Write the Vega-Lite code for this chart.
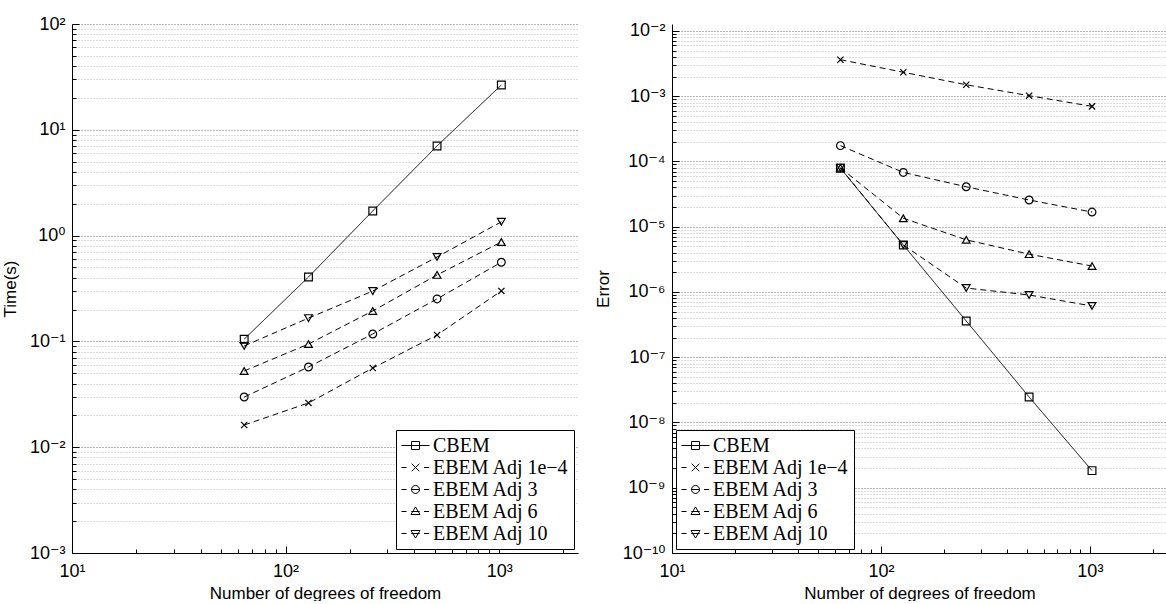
{
  "$schema": "https://vega.github.io/schema/vega-lite/v6.json",
  "padding": {"left": 1, "top": 15, "right": 0, "bottom": 0},
  "spacing": 16,
  "background": "white",
  "config": {
    "view": {"stroke": null},
    "font": "Liberation Sans",
    "axis": {
      "domainColor": "black", "domainWidth": 1, "tickColor": "black", "tickWidth": 1,
      "labelFont": "Liberation Sans, DejaVu Sans", "labelFontSize": 18, "labelColor": "black",
      "titleFont": "Liberation Sans", "titleFontSize": 17, "titleFontWeight": "normal", "titleColor": "black",
      "gridDash": [1, 2], "gridWidth": 1, "labelFlush": false, "labelOverlap": false,
      "gridColor": {"condition": {"test": "abs(log(datum.value)/LN10 - round(log(datum.value)/LN10)) < 0.001", "value": "#707070"}, "value": "#b8b8b8"},
      "tickSize": {"condition": {"test": "abs(log(datum.value)/LN10 - round(log(datum.value)/LN10)) < 0.001", "value": -7}, "value": -4},
      "labelExpr": "abs(log(datum.value)/LN10 - round(log(datum.value)/LN10)) < 0.001 ? '10' + ['⁻¹⁰','⁻⁹','⁻⁸','⁻⁷','⁻⁶','⁻⁵','⁻⁴','⁻³','⁻²','⁻¹','⁰','¹','²','³'][round(log(datum.value)/LN10)+10] : ''"
    },
    "axisX": {"grid": false},
    "legend": {
      "labelFont": "Liberation Serif", "labelFontSize": 20, "labelColor": "black",
      "strokeColor": "black", "fillColor": "white", "padding": 5,
      "symbolSize": 400, "symbolStrokeWidth": 1, "symbolStrokeColor": "black", "symbolFillColor": "transparent",
      "symbolOpacity": 1, "symbolOffset": 4, "rowPadding": 1, "labelOffset": 7, "labelLimit": 400, "title": null
    }
  },
  "datasets": {
    "time": [
      {"series": "CBEM", "dof": 64, "value": 0.105},
      {"series": "CBEM", "dof": 128, "value": 0.406},
      {"series": "CBEM", "dof": 256, "value": 1.71},
      {"series": "CBEM", "dof": 512, "value": 7.03},
      {"series": "CBEM", "dof": 1024, "value": 26.5},
      {"series": "EBEM Adj 1e−4", "dof": 64, "value": 0.0162},
      {"series": "EBEM Adj 1e−4", "dof": 128, "value": 0.0262},
      {"series": "EBEM Adj 1e−4", "dof": 256, "value": 0.056},
      {"series": "EBEM Adj 1e−4", "dof": 512, "value": 0.115},
      {"series": "EBEM Adj 1e−4", "dof": 1024, "value": 0.30},
      {"series": "EBEM Adj 3", "dof": 64, "value": 0.0298},
      {"series": "EBEM Adj 3", "dof": 128, "value": 0.0573},
      {"series": "EBEM Adj 3", "dof": 256, "value": 0.1175},
      {"series": "EBEM Adj 3", "dof": 512, "value": 0.252},
      {"series": "EBEM Adj 3", "dof": 1024, "value": 0.56},
      {"series": "EBEM Adj 6", "dof": 64, "value": 0.0525},
      {"series": "EBEM Adj 6", "dof": 128, "value": 0.0944},
      {"series": "EBEM Adj 6", "dof": 256, "value": 0.194},
      {"series": "EBEM Adj 6", "dof": 512, "value": 0.425},
      {"series": "EBEM Adj 6", "dof": 1024, "value": 0.87},
      {"series": "EBEM Adj 10", "dof": 64, "value": 0.0906},
      {"series": "EBEM Adj 10", "dof": 128, "value": 0.166},
      {"series": "EBEM Adj 10", "dof": 256, "value": 0.299},
      {"series": "EBEM Adj 10", "dof": 512, "value": 0.628},
      {"series": "EBEM Adj 10", "dof": 1024, "value": 1.35}
    ],
    "error": [
      {"series": "CBEM", "dof": 64, "value": 7.9e-5},
      {"series": "CBEM", "dof": 128, "value": 5.25e-6},
      {"series": "CBEM", "dof": 256, "value": 3.6e-7},
      {"series": "CBEM", "dof": 512, "value": 2.46e-8},
      {"series": "CBEM", "dof": 1024, "value": 1.83e-9},
      {"series": "EBEM Adj 1e−4", "dof": 64, "value": 3.63e-3},
      {"series": "EBEM Adj 1e−4", "dof": 128, "value": 2.33e-3},
      {"series": "EBEM Adj 1e−4", "dof": 256, "value": 1.5e-3},
      {"series": "EBEM Adj 1e−4", "dof": 512, "value": 1.02e-3},
      {"series": "EBEM Adj 1e−4", "dof": 1024, "value": 7.0e-4},
      {"series": "EBEM Adj 3", "dof": 64, "value": 1.75e-4},
      {"series": "EBEM Adj 3", "dof": 128, "value": 6.8e-5},
      {"series": "EBEM Adj 3", "dof": 256, "value": 4.1e-5},
      {"series": "EBEM Adj 3", "dof": 512, "value": 2.57e-5},
      {"series": "EBEM Adj 3", "dof": 1024, "value": 1.68e-5},
      {"series": "EBEM Adj 6", "dof": 64, "value": 8.0e-5},
      {"series": "EBEM Adj 6", "dof": 128, "value": 1.35e-5},
      {"series": "EBEM Adj 6", "dof": 256, "value": 6.3e-6},
      {"series": "EBEM Adj 6", "dof": 512, "value": 3.8e-6},
      {"series": "EBEM Adj 6", "dof": 1024, "value": 2.5e-6},
      {"series": "EBEM Adj 10", "dof": 64, "value": 8.0e-5},
      {"series": "EBEM Adj 10", "dof": 128, "value": 5.25e-6},
      {"series": "EBEM Adj 10", "dof": 256, "value": 1.15e-6},
      {"series": "EBEM Adj 10", "dof": 512, "value": 9.0e-7},
      {"series": "EBEM Adj 10", "dof": 1024, "value": 6.1e-7}
    ]
  },
  "hconcat": [
    {
      "width": 506, "height": 529,
      "data": {"name": "time"},
      "resolve": {"scale": {"shape": "independent"}},
      "layer": [
        {
          "mark": {"type": "line", "color": "black", "strokeWidth": 1},
          "encoding": {
            "x": {"field": "dof", "type": "quantitative", "scale": {"type": "log", "domain": [10, 2340], "nice": false},
                  "axis": {"title": "Number of degrees of freedom", "titlePadding": 2, "labelPadding": 16,
                           "values": [10,20,30,40,50,60,70,80,90,100,200,300,400,500,600,700,800,900,1000,2000]}},
            "y": {"field": "value", "type": "quantitative", "scale": {"type": "log", "domain": [0.001, 100], "nice": false},
                  "axis": {"title": "Time(s)", "titlePadding": 10, "labelPadding": 14,
                           "values": [0.001,0.002,0.003,0.004,0.005,0.006,0.007,0.008,0.009,0.01,0.02,0.03,0.04,0.05,0.06,0.07,0.08,0.09,0.1,0.2,0.3,0.4,0.5,0.6,0.7,0.8,0.9,1,2,3,4,5,6,7,8,9,10,20,30,40,50,60,70,80,90,100]}},
            "detail": {"field": "series"},
            "strokeDash": {"field": "series", "type": "nominal", "legend": null,
                           "scale": {"domain": ["CBEM","EBEM Adj 1e−4","EBEM Adj 3","EBEM Adj 6","EBEM Adj 10"], "range": [[1,0],[6,4],[6,4],[6,4],[6,4]]}}
          }
        },
        {
          "mark": {"type": "point", "filled": false, "color": "black", "strokeWidth": 1.2, "size": 60, "opacity": 1},
          "encoding": {
            "x": {"field": "dof", "type": "quantitative"},
            "y": {"field": "value", "type": "quantitative"},
            "shape": {"field": "series", "type": "nominal", "legend": null,
                      "scale": {"domain": ["CBEM","EBEM Adj 1e−4","EBEM Adj 3","EBEM Adj 6","EBEM Adj 10"],
                                "range": ["square","M-0.8,-0.8L0.8,0.8M-0.8,0.8L0.8,-0.8","circle","triangle-up","triangle-down"]}}
          }
        },
        {
          "mark": {"type": "point", "filled": false, "color": "black", "strokeWidth": 1, "size": 60, "opacity": 0},
          "encoding": {
            "x": {"field": "dof", "type": "quantitative"},
            "y": {"field": "value", "type": "quantitative"},
            "shape": {"field": "series", "type": "nominal",
                      "scale": {"domain": ["CBEM","EBEM Adj 1e−4","EBEM Adj 3","EBEM Adj 6","EBEM Adj 10"],
                                "range": ["M-1.4,0H1.4M-0.4,-0.4H0.4V0.4H-0.4Z",
                                          "M-1.4,0H-0.9M0.85,0H1.35M-0.38,-0.38L0.38,0.38M-0.38,0.38L0.38,-0.38",
                                          "M-1.4,0H-0.9M-0.42,0H0.42M0.85,0H1.35M0.4,0A0.4,0.4 0 1,1 -0.4,0A0.4,0.4 0 1,1 0.4,0Z",
                                          "M-1.4,0H-0.9M-0.42,0H0.42M0.85,0H1.35M0,-0.46L0.45,0.3L-0.45,0.3Z",
                                          "M-1.4,0H-0.9M-0.42,0H0.42M0.85,0H1.35M0,0.46L0.45,-0.3L-0.45,-0.3Z"]},
                      "legend": {"orient": "bottom-right", "offset": 4}}
          }
        }
      ]
    },
    {
      "width": 495, "height": 529,
      "data": {"name": "error"},
      "resolve": {"scale": {"shape": "independent"}},
      "layer": [
        {
          "mark": {"type": "line", "color": "black", "strokeWidth": 1},
          "encoding": {
            "x": {"field": "dof", "type": "quantitative", "scale": {"type": "log", "domain": [10, 2340], "nice": false},
                  "axis": {"title": "Number of degrees of freedom", "titlePadding": 2, "labelPadding": 16,
                           "values": [10,20,30,40,50,60,70,80,90,100,200,300,400,500,600,700,800,900,1000,2000]}},
            "y": {"field": "value", "type": "quantitative", "scale": {"type": "log", "domain": [1e-10, 0.0128], "nice": false},
                  "axis": {"title": "Error", "titlePadding": 10, "labelPadding": 14,
                           "values": [1e-10,2e-10,3e-10,4e-10,5e-10,6e-10,7e-10,8e-10,9e-10,1e-9,2e-9,3e-9,4e-9,5e-9,6e-9,7e-9,8e-9,9e-9,1e-8,2e-8,3e-8,4e-8,5e-8,6e-8,7e-8,8e-8,9e-8,1e-7,2e-7,3e-7,4e-7,5e-7,6e-7,7e-7,8e-7,9e-7,1e-6,2e-6,3e-6,4e-6,5e-6,6e-6,7e-6,8e-6,9e-6,1e-5,2e-5,3e-5,4e-5,5e-5,6e-5,7e-5,8e-5,9e-5,1e-4,2e-4,3e-4,4e-4,5e-4,6e-4,7e-4,8e-4,9e-4,1e-3,2e-3,3e-3,4e-3,5e-3,6e-3,7e-3,8e-3,9e-3,1e-2]}},
            "detail": {"field": "series"},
            "strokeDash": {"field": "series", "type": "nominal", "legend": null,
                           "scale": {"domain": ["CBEM","EBEM Adj 1e−4","EBEM Adj 3","EBEM Adj 6","EBEM Adj 10"], "range": [[1,0],[6,4],[6,4],[6,4],[6,4]]}}
          }
        },
        {
          "mark": {"type": "point", "filled": false, "color": "black", "strokeWidth": 1.2, "size": 60, "opacity": 1},
          "encoding": {
            "x": {"field": "dof", "type": "quantitative"},
            "y": {"field": "value", "type": "quantitative"},
            "shape": {"field": "series", "type": "nominal", "legend": null,
                      "scale": {"domain": ["CBEM","EBEM Adj 1e−4","EBEM Adj 3","EBEM Adj 6","EBEM Adj 10"],
                                "range": ["square","M-0.8,-0.8L0.8,0.8M-0.8,0.8L0.8,-0.8","circle","triangle-up","triangle-down"]}}
          }
        },
        {
          "mark": {"type": "point", "filled": false, "color": "black", "strokeWidth": 1, "size": 60, "opacity": 0},
          "encoding": {
            "x": {"field": "dof", "type": "quantitative"},
            "y": {"field": "value", "type": "quantitative"},
            "shape": {"field": "series", "type": "nominal",
                      "scale": {"domain": ["CBEM","EBEM Adj 1e−4","EBEM Adj 3","EBEM Adj 6","EBEM Adj 10"],
                                "range": ["M-1.4,0H1.4M-0.4,-0.4H0.4V0.4H-0.4Z",
                                          "M-1.4,0H-0.9M0.85,0H1.35M-0.38,-0.38L0.38,0.38M-0.38,0.38L0.38,-0.38",
                                          "M-1.4,0H-0.9M-0.42,0H0.42M0.85,0H1.35M0.4,0A0.4,0.4 0 1,1 -0.4,0A0.4,0.4 0 1,1 0.4,0Z",
                                          "M-1.4,0H-0.9M-0.42,0H0.42M0.85,0H1.35M0,-0.46L0.45,0.3L-0.45,0.3Z",
                                          "M-1.4,0H-0.9M-0.42,0H0.42M0.85,0H1.35M0,0.46L0.45,-0.3L-0.45,-0.3Z"]},
                      "legend": {"orient": "bottom-left", "offset": 4}}
          }
        }
      ]
    }
  ]
}
